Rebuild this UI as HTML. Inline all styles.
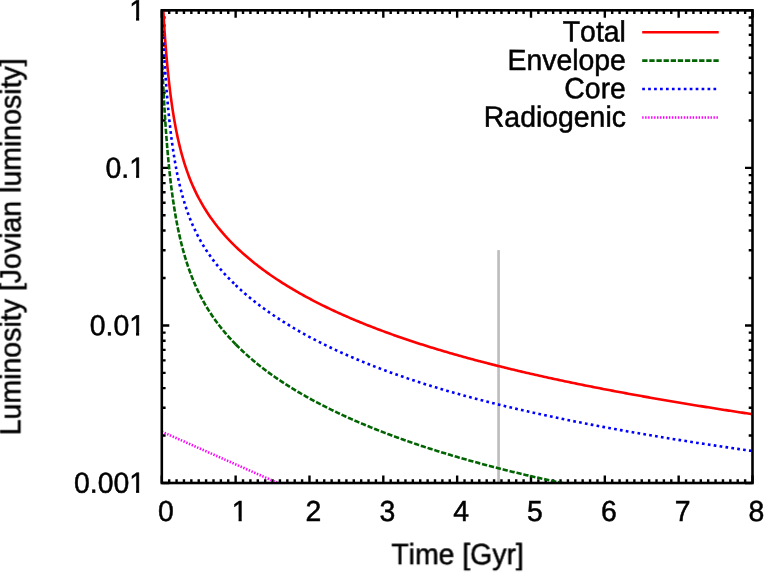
<!DOCTYPE html>
<html><head><meta charset="utf-8"><title>Luminosity</title>
<style>
html,body{margin:0;padding:0;background:#fff;}
body{width:764px;height:572px;overflow:hidden;font-family:"Liberation Sans",sans-serif;}
svg{display:block;}
</style></head><body>
<svg width="764" height="572" viewBox="0 0 764 572">
<rect width="764" height="572" fill="#fff"/>
<clipPath id="c"><rect x="160.50" y="9.00" width="593.30" height="474.00"/></clipPath>
<line x1="498.57" y1="250.12" x2="498.57" y2="483.00" stroke="#bebebe" stroke-width="2.7"/>
<path d="M161.80,483.00 v-7.50 M161.80,10.30 v7.50 M169.18,483.00 v-3.80 M169.18,10.30 v3.80 M176.57,483.00 v-3.80 M176.57,10.30 v3.80 M183.95,483.00 v-3.80 M183.95,10.30 v3.80 M191.34,483.00 v-3.80 M191.34,10.30 v3.80 M198.72,483.00 v-3.80 M198.72,10.30 v3.80 M206.10,483.00 v-3.80 M206.10,10.30 v3.80 M213.49,483.00 v-3.80 M213.49,10.30 v3.80 M220.87,483.00 v-3.80 M220.87,10.30 v3.80 M228.25,483.00 v-3.80 M228.25,10.30 v3.80 M235.64,483.00 v-7.50 M235.64,10.30 v7.50 M243.02,483.00 v-3.80 M243.02,10.30 v3.80 M250.41,483.00 v-3.80 M250.41,10.30 v3.80 M257.79,483.00 v-3.80 M257.79,10.30 v3.80 M265.17,483.00 v-3.80 M265.17,10.30 v3.80 M272.56,483.00 v-3.80 M272.56,10.30 v3.80 M279.94,483.00 v-3.80 M279.94,10.30 v3.80 M287.32,483.00 v-3.80 M287.32,10.30 v3.80 M294.71,483.00 v-3.80 M294.71,10.30 v3.80 M302.09,483.00 v-3.80 M302.09,10.30 v3.80 M309.48,483.00 v-7.50 M309.48,10.30 v7.50 M316.86,483.00 v-3.80 M316.86,10.30 v3.80 M324.24,483.00 v-3.80 M324.24,10.30 v3.80 M331.63,483.00 v-3.80 M331.63,10.30 v3.80 M339.01,483.00 v-3.80 M339.01,10.30 v3.80 M346.39,483.00 v-3.80 M346.39,10.30 v3.80 M353.78,483.00 v-3.80 M353.78,10.30 v3.80 M361.16,483.00 v-3.80 M361.16,10.30 v3.80 M368.55,483.00 v-3.80 M368.55,10.30 v3.80 M375.93,483.00 v-3.80 M375.93,10.30 v3.80 M383.31,483.00 v-7.50 M383.31,10.30 v7.50 M390.70,483.00 v-3.80 M390.70,10.30 v3.80 M398.08,483.00 v-3.80 M398.08,10.30 v3.80 M405.46,483.00 v-3.80 M405.46,10.30 v3.80 M412.85,483.00 v-3.80 M412.85,10.30 v3.80 M420.23,483.00 v-3.80 M420.23,10.30 v3.80 M427.62,483.00 v-3.80 M427.62,10.30 v3.80 M435.00,483.00 v-3.80 M435.00,10.30 v3.80 M442.38,483.00 v-3.80 M442.38,10.30 v3.80 M449.77,483.00 v-3.80 M449.77,10.30 v3.80 M457.15,483.00 v-7.50 M457.15,10.30 v7.50 M464.53,483.00 v-3.80 M464.53,10.30 v3.80 M471.92,483.00 v-3.80 M471.92,10.30 v3.80 M479.30,483.00 v-3.80 M479.30,10.30 v3.80 M486.69,483.00 v-3.80 M486.69,10.30 v3.80 M494.07,483.00 v-3.80 M494.07,10.30 v3.80 M501.45,483.00 v-3.80 M501.45,10.30 v3.80 M508.84,483.00 v-3.80 M508.84,10.30 v3.80 M516.22,483.00 v-3.80 M516.22,10.30 v3.80 M523.60,483.00 v-3.80 M523.60,10.30 v3.80 M530.99,483.00 v-7.50 M530.99,10.30 v7.50 M538.37,483.00 v-3.80 M538.37,10.30 v3.80 M545.76,483.00 v-3.80 M545.76,10.30 v3.80 M553.14,483.00 v-3.80 M553.14,10.30 v3.80 M560.52,483.00 v-3.80 M560.52,10.30 v3.80 M567.91,483.00 v-3.80 M567.91,10.30 v3.80 M575.29,483.00 v-3.80 M575.29,10.30 v3.80 M582.67,483.00 v-3.80 M582.67,10.30 v3.80 M590.06,483.00 v-3.80 M590.06,10.30 v3.80 M597.44,483.00 v-3.80 M597.44,10.30 v3.80 M604.83,483.00 v-7.50 M604.83,10.30 v7.50 M612.21,483.00 v-3.80 M612.21,10.30 v3.80 M619.59,483.00 v-3.80 M619.59,10.30 v3.80 M626.98,483.00 v-3.80 M626.98,10.30 v3.80 M634.36,483.00 v-3.80 M634.36,10.30 v3.80 M641.74,483.00 v-3.80 M641.74,10.30 v3.80 M649.13,483.00 v-3.80 M649.13,10.30 v3.80 M656.51,483.00 v-3.80 M656.51,10.30 v3.80 M663.90,483.00 v-3.80 M663.90,10.30 v3.80 M671.28,483.00 v-3.80 M671.28,10.30 v3.80 M678.66,483.00 v-7.50 M678.66,10.30 v7.50 M686.05,483.00 v-3.80 M686.05,10.30 v3.80 M693.43,483.00 v-3.80 M693.43,10.30 v3.80 M700.81,483.00 v-3.80 M700.81,10.30 v3.80 M708.20,483.00 v-3.80 M708.20,10.30 v3.80 M715.58,483.00 v-3.80 M715.58,10.30 v3.80 M722.97,483.00 v-3.80 M722.97,10.30 v3.80 M730.35,483.00 v-3.80 M730.35,10.30 v3.80 M737.73,483.00 v-3.80 M737.73,10.30 v3.80 M745.12,483.00 v-3.80 M745.12,10.30 v3.80 M752.50,483.00 v-7.50 M752.50,10.30 v7.50 M161.80,167.87 h7.50 M752.50,167.87 h-7.50 M161.80,120.43 h3.80 M752.50,120.43 h-3.80 M161.80,92.69 h3.80 M752.50,92.69 h-3.80 M161.80,73.00 h3.80 M752.50,73.00 h-3.80 M161.80,57.73 h3.80 M752.50,57.73 h-3.80 M161.80,45.26 h3.80 M752.50,45.26 h-3.80 M161.80,34.71 h3.80 M752.50,34.71 h-3.80 M161.80,25.57 h3.80 M752.50,25.57 h-3.80 M161.80,17.51 h3.80 M752.50,17.51 h-3.80 M161.80,325.43 h7.50 M752.50,325.43 h-7.50 M161.80,278.00 h3.80 M752.50,278.00 h-3.80 M161.80,250.25 h3.80 M752.50,250.25 h-3.80 M161.80,230.57 h3.80 M752.50,230.57 h-3.80 M161.80,215.30 h3.80 M752.50,215.30 h-3.80 M161.80,202.82 h3.80 M752.50,202.82 h-3.80 M161.80,192.27 h3.80 M752.50,192.27 h-3.80 M161.80,183.14 h3.80 M752.50,183.14 h-3.80 M161.80,175.08 h3.80 M752.50,175.08 h-3.80 M161.80,483.00 h7.50 M752.50,483.00 h-7.50 M161.80,435.57 h3.80 M752.50,435.57 h-3.80 M161.80,407.82 h3.80 M752.50,407.82 h-3.80 M161.80,388.14 h3.80 M752.50,388.14 h-3.80 M161.80,372.87 h3.80 M752.50,372.87 h-3.80 M161.80,360.39 h3.80 M752.50,360.39 h-3.80 M161.80,349.84 h3.80 M752.50,349.84 h-3.80 M161.80,340.70 h3.80 M752.50,340.70 h-3.80 M161.80,332.64 h3.80 M752.50,332.64 h-3.80 M161.80,10.30 h7.50 M752.50,10.30 h-7.50" fill="none" stroke="#000" stroke-width="2.40"/>
<g fill="none" stroke-width="2.60" stroke-linejoin="round" clip-path="url(#c)">
<path d="M163.30,10.30 L164.02,23.11 L164.05,23.59 L164.08,24.08 L164.11,24.58 L164.14,25.08 L164.18,25.59 L164.21,26.10 L164.24,26.61 L164.28,27.14 L164.31,27.66 L164.35,28.19 L164.39,28.73 L164.42,29.27 L164.46,29.82 L164.50,30.37 L164.54,30.93 L164.57,31.49 L164.61,32.06 L164.65,32.64 L164.69,33.21 L164.74,33.80 L164.78,34.39 L164.82,34.98 L164.86,35.58 L164.91,36.19 L164.95,36.80 L164.99,37.42 L165.04,38.04 L165.09,38.66 L165.13,39.30 L165.18,39.94 L165.23,40.58 L165.28,41.23 L165.33,41.88 L165.38,42.54 L165.43,43.21 L165.48,43.88 L165.53,44.55 L165.58,45.24 L165.64,45.92 L165.69,46.61 L165.75,47.31 L165.80,48.02 L165.86,48.73 L165.92,49.44 L165.97,50.16 L166.03,50.88 L166.09,51.61 L166.15,52.35 L166.22,53.09 L166.28,53.84 L166.34,54.59 L166.41,55.35 L166.47,56.11 L166.54,56.88 L166.61,57.65 L166.67,58.43 L166.74,59.21 L166.81,60.00 L166.88,60.80 L166.96,61.60 L167.03,62.40 L167.10,63.21 L167.18,64.02 L167.26,64.84 L167.33,65.67 L167.41,66.50 L167.49,67.33 L167.57,68.17 L167.65,69.01 L167.74,69.86 L167.82,70.72 L167.91,71.57 L167.99,72.44 L168.08,73.30 L168.17,74.18 L168.26,75.05 L168.35,75.93 L168.44,76.82 L168.54,77.71 L168.63,78.60 L168.73,79.50 L168.83,80.40 L168.93,81.31 L169.03,82.22 L169.13,83.14 L169.24,84.06 L169.34,84.98 L169.45,85.91 L169.56,86.84 L169.67,87.77 L169.78,88.71 L169.89,89.65 L170.01,90.60 L170.12,91.54 L170.24,92.50 L170.36,93.45 L170.48,94.41 L170.61,95.37 L170.73,96.34 L170.86,97.30 L170.99,98.28 L171.12,99.25 L171.25,100.23 L171.38,101.21 L171.52,102.19 L171.66,103.17 L171.80,104.16 L171.94,105.15 L172.08,106.14 L172.23,107.14 L172.37,108.13 L172.52,109.13 L172.68,110.13 L172.83,111.14 L172.99,112.14 L173.15,113.15 L173.31,114.16 L173.47,115.17 L173.64,116.18 L173.80,117.19 L173.97,118.21 L174.15,119.22 L174.32,120.24 L174.50,121.26 L174.68,122.28 L174.86,123.30 L175.05,124.32 L175.24,125.34 L175.43,126.37 L175.62,127.39 L175.81,128.42 L176.01,129.45 L176.22,130.47 L176.42,131.50 L176.63,132.53 L176.84,133.56 L177.05,134.58 L177.27,135.61 L177.49,136.64 L177.71,137.67 L177.93,138.70 L178.16,139.73 L178.40,140.76 L178.63,141.79 L178.87,142.82 L179.11,143.85 L179.36,144.87 L179.61,145.90 L179.86,146.93 L180.11,147.96 L180.37,148.99 L180.64,150.01 L180.90,151.04 L181.18,152.06 L181.45,153.09 L181.73,154.11 L182.01,155.14 L182.30,156.16 L182.59,157.18 L182.88,158.20 L183.18,159.22 L183.49,160.24 L183.79,161.26 L184.11,162.28 L184.42,163.30 L184.74,164.31 L185.07,165.33 L185.40,166.34 L185.73,167.36 L186.07,168.37 L186.42,169.38 L186.77,170.39 L187.12,171.40 L187.48,172.41 L187.84,173.41 L188.21,174.42 L188.59,175.42 L188.97,176.43 L189.35,177.43 L189.74,178.43 L190.14,179.43 L190.54,180.43 L190.95,181.43 L191.36,182.43 L191.78,183.42 L192.21,184.42 L192.64,185.41 L193.08,186.41 L193.52,187.40 L193.97,188.39 L194.42,189.38 L194.89,190.37 L195.36,191.36 L195.83,192.35 L196.32,193.34 L196.81,194.33 L197.30,195.31 L197.80,196.30 L198.32,197.28 L198.83,198.27 L199.36,199.25 L199.89,200.23 L200.43,201.22 L200.98,202.20 L201.54,203.18 L202.10,204.16 L202.67,205.14 L203.25,206.12 L203.84,207.10 L204.43,208.08 L205.04,209.06 L205.65,210.04 L206.27,211.02 L206.90,212.00 L207.54,212.98 L208.19,213.96 L208.85,214.94 L209.52,215.92 L210.19,216.90 L210.88,217.88 L211.58,218.86 L212.28,219.84 L213.00,220.82 L213.73,221.80 L214.46,222.78 L215.21,223.76 L215.97,224.75 L216.73,225.73 L217.51,226.72 L218.30,227.70 L219.10,228.69 L219.92,229.67 L220.74,230.66 L221.58,231.65 L222.43,232.64 L223.29,233.63 L224.16,234.62 L225.04,235.61 L225.94,236.60 L226.85,237.60 L227.77,238.60 L228.71,239.59 L229.65,240.59 L230.62,241.59 L231.59,242.59 L232.58,243.60 L233.59,244.60 L234.60,245.61 L235.64,246.61 L237.12,248.04 L238.60,249.43 L240.08,250.81 L241.56,252.16 L243.04,253.49 L244.52,254.80 L246.00,256.09 L247.49,257.36 L248.97,258.61 L250.45,259.84 L251.93,261.06 L253.41,262.26 L254.89,263.44 L256.37,264.60 L257.85,265.75 L259.33,266.89 L260.81,268.01 L262.30,269.11 L263.78,270.20 L265.26,271.28 L266.74,272.35 L268.22,273.40 L269.70,274.44 L271.18,275.46 L272.66,276.48 L274.14,277.48 L275.62,278.48 L277.10,279.46 L278.59,280.43 L280.07,281.39 L281.55,282.34 L283.03,283.28 L284.51,284.21 L285.99,285.14 L287.47,286.05 L288.95,286.95 L290.43,287.84 L291.91,288.73 L293.40,289.60 L294.88,290.47 L296.36,291.33 L297.84,292.18 L299.32,293.03 L300.80,293.86 L302.28,294.69 L303.76,295.51 L305.24,296.32 L306.72,297.13 L308.21,297.93 L309.69,298.72 L311.17,299.50 L312.65,300.28 L314.13,301.05 L315.61,301.82 L317.09,302.58 L318.57,303.33 L320.05,304.07 L321.53,304.81 L323.02,305.55 L324.50,306.27 L325.98,307.00 L327.46,307.71 L328.94,308.42 L330.42,309.13 L331.90,309.83 L333.38,310.52 L334.86,311.21 L336.34,311.89 L337.83,312.57 L339.31,313.25 L340.79,313.91 L342.27,314.58 L343.75,315.24 L345.23,315.89 L346.71,316.54 L348.19,317.18 L349.67,317.82 L351.15,318.46 L352.64,319.09 L354.12,319.72 L355.60,320.34 L357.08,320.96 L358.56,321.57 L360.04,322.18 L361.52,322.78 L363.00,323.39 L364.48,323.98 L365.96,324.58 L367.44,325.17 L368.93,325.75 L370.41,326.33 L371.89,326.91 L373.37,327.48 L374.85,328.05 L376.33,328.62 L377.81,329.18 L379.29,329.74 L380.77,330.30 L382.25,330.85 L383.74,331.40 L385.22,331.95 L386.70,332.49 L388.18,333.03 L389.66,333.57 L391.14,334.10 L392.62,334.63 L394.10,335.16 L395.58,335.68 L397.06,336.20 L398.55,336.72 L400.03,337.23 L401.51,337.74 L402.99,338.25 L404.47,338.76 L405.95,339.26 L407.43,339.76 L408.91,340.26 L410.39,340.75 L411.87,341.24 L413.36,341.73 L414.84,342.22 L416.32,342.70 L417.80,343.18 L419.28,343.66 L420.76,344.14 L422.24,344.61 L423.72,345.08 L425.20,345.55 L426.68,346.01 L428.17,346.48 L429.65,346.94 L431.13,347.39 L432.61,347.85 L434.09,348.30 L435.57,348.75 L437.05,349.20 L438.53,349.65 L440.01,350.09 L441.49,350.54 L442.97,350.98 L444.46,351.41 L445.94,351.85 L447.42,352.28 L448.90,352.71 L450.38,353.14 L451.86,353.57 L453.34,354.00 L454.82,354.42 L456.30,354.84 L457.78,355.26 L459.27,355.68 L460.75,356.09 L462.23,356.50 L463.71,356.91 L465.19,357.32 L466.67,357.73 L468.15,358.14 L469.63,358.54 L471.11,358.94 L472.59,359.34 L474.08,359.74 L475.56,360.14 L477.04,360.53 L478.52,360.92 L480.00,361.31 L481.48,361.70 L482.96,362.09 L484.44,362.48 L485.92,362.86 L487.40,363.24 L488.89,363.62 L490.37,364.00 L491.85,364.38 L493.33,364.76 L494.81,365.13 L496.29,365.50 L497.77,365.87 L499.25,366.24 L500.73,366.61 L502.21,366.98 L503.70,367.34 L505.18,367.71 L506.66,368.07 L508.14,368.43 L509.62,368.79 L511.10,369.15 L512.58,369.50 L514.06,369.86 L515.54,370.21 L517.02,370.56 L518.50,370.91 L519.99,371.26 L521.47,371.61 L522.95,371.96 L524.43,372.30 L525.91,372.65 L527.39,372.99 L528.87,373.33 L530.35,373.67 L531.83,374.01 L533.31,374.34 L534.80,374.68 L536.28,375.02 L537.76,375.35 L539.24,375.68 L540.72,376.01 L542.20,376.34 L543.68,376.67 L545.16,377.00 L546.64,377.32 L548.12,377.65 L549.61,377.97 L551.09,378.29 L552.57,378.62 L554.05,378.94 L555.53,379.26 L557.01,379.57 L558.49,379.89 L559.97,380.21 L561.45,380.52 L562.93,380.83 L564.42,381.15 L565.90,381.46 L567.38,381.77 L568.86,382.08 L570.34,382.39 L571.82,382.69 L573.30,383.00 L574.78,383.30 L576.26,383.61 L577.74,383.91 L579.23,384.21 L580.71,384.52 L582.19,384.82 L583.67,385.11 L585.15,385.41 L586.63,385.71 L588.11,386.01 L589.59,386.30 L591.07,386.60 L592.55,386.89 L594.03,387.18 L595.52,387.47 L597.00,387.76 L598.48,388.05 L599.96,388.34 L601.44,388.63 L602.92,388.92 L604.40,389.20 L605.88,389.49 L607.36,389.77 L608.84,390.05 L610.33,390.34 L611.81,390.62 L613.29,390.90 L614.77,391.18 L616.25,391.46 L617.73,391.74 L619.21,392.01 L620.69,392.29 L622.17,392.57 L623.65,392.84 L625.14,393.12 L626.62,393.39 L628.10,393.66 L629.58,393.93 L631.06,394.20 L632.54,394.48 L634.02,394.74 L635.50,395.01 L636.98,395.28 L638.46,395.55 L639.95,395.81 L641.43,396.08 L642.91,396.35 L644.39,396.61 L645.87,396.87 L647.35,397.14 L648.83,397.40 L650.31,397.66 L651.79,397.92 L653.27,398.18 L654.76,398.44 L656.24,398.70 L657.72,398.96 L659.20,399.21 L660.68,399.47 L662.16,399.73 L663.64,399.98 L665.12,400.23 L666.60,400.49 L668.08,400.74 L669.57,400.99 L671.05,401.25 L672.53,401.50 L674.01,401.75 L675.49,402.00 L676.97,402.25 L678.45,402.50 L679.93,402.74 L681.41,402.99 L682.89,403.24 L684.37,403.48 L685.86,403.73 L687.34,403.97 L688.82,404.22 L690.30,404.46 L691.78,404.71 L693.26,404.95 L694.74,405.19 L696.22,405.43 L697.70,405.67 L699.18,405.91 L700.67,406.15 L702.15,406.39 L703.63,406.63 L705.11,406.87 L706.59,407.10 L708.07,407.34 L709.55,407.58 L711.03,407.81 L712.51,408.05 L713.99,408.28 L715.48,408.52 L716.96,408.75 L718.44,408.98 L719.92,409.22 L721.40,409.45 L722.88,409.68 L724.36,409.91 L725.84,410.14 L727.32,410.37 L728.80,410.60 L730.29,410.83 L731.77,411.06 L733.25,411.29 L734.73,411.51 L736.21,411.74 L737.69,411.97 L739.17,412.19 L740.65,412.42 L742.13,412.64 L743.61,412.87 L745.10,413.09 L746.58,413.32 L748.06,413.54 L749.54,413.76 L751.02,413.98 L752.50,414.21" stroke="#ff0000"/>
<path d="M162.17,61.81 L162.18,62.00 L162.19,62.20 L162.19,62.40 L162.20,62.60 L162.21,62.80 L162.22,63.02 L162.23,63.23 L162.24,63.45 L162.25,63.67 L162.26,63.90 L162.27,64.14 L162.28,64.37 L162.29,64.62 L162.30,64.86 L162.31,65.12 L162.32,65.37 L162.33,65.63 L162.34,65.90 L162.35,66.17 L162.37,66.45 L162.38,66.73 L162.39,67.02 L162.40,67.32 L162.42,67.62 L162.43,67.92 L162.44,68.23 L162.46,68.55 L162.47,68.87 L162.48,69.20 L162.50,69.54 L162.51,69.88 L162.53,70.23 L162.55,70.59 L162.56,70.95 L162.58,71.32 L162.59,71.69 L162.61,72.07 L162.63,72.46 L162.65,72.86 L162.66,73.27 L162.68,73.68 L162.70,74.10 L162.72,74.52 L162.74,74.96 L162.76,75.40 L162.78,75.85 L162.80,76.31 L162.83,76.78 L162.85,77.26 L162.87,77.74 L162.89,78.23 L162.92,78.73 L162.94,79.24 L162.96,79.76 L162.99,80.29 L163.02,80.83 L163.04,81.38 L163.07,81.93 L163.10,82.50 L163.12,83.07 L163.15,83.66 L163.18,84.26 L163.21,84.86 L163.24,85.48 L163.27,86.10 L163.30,86.74 L163.34,87.39 L163.37,88.04 L163.40,88.71 L163.44,89.39 L163.47,90.08 L163.51,90.78 L163.55,91.49 L163.58,92.22 L163.62,92.95 L163.66,93.70 L163.70,94.45 L163.74,95.22 L163.78,96.00 L163.83,96.80 L163.87,97.60 L163.91,98.42 L163.96,99.25 L164.01,100.09 L164.05,100.94 L164.10,101.81 L164.15,102.69 L164.20,103.58 L164.25,104.48 L164.31,105.40 L164.36,106.33 L164.41,107.27 L164.47,108.22 L164.53,109.19 L164.59,110.17 L164.65,111.16 L164.71,112.17 L164.77,113.18 L164.83,114.22 L164.90,115.26 L164.97,116.32 L165.03,117.39 L165.10,118.47 L165.18,119.57 L165.25,120.68 L165.32,121.80 L165.40,122.94 L165.48,124.09 L165.55,125.25 L165.64,126.43 L165.72,127.61 L165.80,128.81 L165.89,130.03 L165.98,131.25 L166.07,132.49 L166.16,133.74 L166.25,135.01 L166.35,136.28 L166.44,137.57 L166.54,138.87 L166.65,140.19 L166.75,141.51 L166.86,142.85 L166.97,144.20 L167.08,145.56 L167.19,146.93 L167.31,148.31 L167.42,149.71 L167.55,151.11 L167.67,152.53 L167.80,153.96 L167.92,155.39 L168.06,156.84 L168.19,158.30 L168.33,159.77 L168.47,161.25 L168.61,162.74 L168.76,164.23 L168.91,165.74 L169.06,167.26 L169.22,168.78 L169.38,170.31 L169.54,171.85 L169.71,173.40 L169.88,174.96 L170.05,176.53 L170.23,178.10 L170.41,179.68 L170.59,181.26 L170.78,182.86 L170.98,184.46 L171.17,186.06 L171.37,187.67 L171.58,189.29 L171.79,190.92 L172.01,192.54 L172.23,194.18 L172.45,195.81 L172.68,197.46 L172.91,199.10 L173.15,200.75 L173.40,202.41 L173.65,204.06 L173.90,205.72 L174.16,207.39 L174.43,209.05 L174.70,210.72 L174.97,212.39 L175.26,214.06 L175.55,215.74 L175.84,217.41 L176.15,219.09 L176.45,220.77 L176.77,222.45 L177.09,224.13 L177.42,225.81 L177.76,227.49 L178.10,229.17 L178.45,230.85 L178.81,232.53 L179.17,234.20 L179.55,235.88 L179.93,237.56 L180.32,239.24 L180.72,240.91 L181.12,242.59 L181.54,244.26 L181.96,245.93 L182.40,247.60 L182.84,249.27 L183.29,250.93 L183.76,252.59 L184.23,254.26 L184.71,255.91 L185.20,257.57 L185.71,259.23 L186.22,260.88 L186.74,262.53 L187.28,264.18 L187.83,265.82 L188.39,267.46 L188.96,269.10 L189.55,270.74 L190.14,272.37 L190.75,274.00 L191.37,275.63 L192.01,277.26 L192.66,278.88 L193.32,280.50 L194.00,282.12 L194.69,283.74 L195.40,285.35 L196.12,286.96 L196.86,288.57 L197.62,290.18 L198.39,291.78 L199.17,293.39 L199.98,294.99 L200.80,296.59 L201.64,298.18 L202.49,299.78 L203.37,301.37 L204.26,302.96 L205.18,304.55 L206.11,306.14 L207.06,307.73 L208.04,309.32 L209.03,310.91 L210.05,312.49 L211.08,314.08 L212.14,315.66 L213.23,317.25 L214.33,318.83 L215.46,320.41 L216.62,322.00 L217.79,323.58 L219.00,325.17 L220.23,326.75 L221.49,328.34 L222.77,329.92 L224.08,331.51 L225.42,333.10 L226.79,334.69 L228.19,336.28 L229.61,337.88 L231.07,339.47 L232.56,341.07 L234.08,342.67 L235.64,344.27" stroke="#006400" stroke-dasharray="5.3 1.8" stroke-dashoffset="3.98"/>
<path d="M235.64,344.27 L236.61,345.25 L237.58,346.23 L238.56,347.19 L239.53,348.14 L240.50,349.09 L241.48,350.02 L242.45,350.94 L243.42,351.85 L244.40,352.75 L245.37,353.64 L246.34,354.52 L247.32,355.39 L248.29,356.25 L249.26,357.11 L250.24,357.95 L251.21,358.79 L252.18,359.62 L253.16,360.44 L254.13,361.25 L255.10,362.06 L256.08,362.86 L257.05,363.65 L258.02,364.43 L258.99,365.21 L259.97,365.98 L260.94,366.75 L261.91,367.50 L262.89,368.25 L263.86,369.00 L264.83,369.73 L265.81,370.47 L266.78,371.19 L267.75,371.91 L268.73,372.63 L269.70,373.33 L270.67,374.04 L271.65,374.73 L272.62,375.43 L273.59,376.11 L274.57,376.79 L275.54,377.47 L276.51,378.14 L277.49,378.81 L278.46,379.47 L279.43,380.13 L280.41,380.78 L281.38,381.43 L282.35,382.07 L283.33,382.71 L284.30,383.34 L285.27,383.97 L286.24,384.60 L287.22,385.22 L288.19,385.83 L289.16,386.45 L290.14,387.06 L291.11,387.66 L292.08,388.26 L293.06,388.86 L294.03,389.45 L295.00,390.04 L295.98,390.63 L296.95,391.21 L297.92,391.79 L298.90,392.36 L299.87,392.93 L300.84,393.50 L301.82,394.06 L302.79,394.63 L303.76,395.18 L304.74,395.74 L305.71,396.29 L306.68,396.84 L307.66,397.38 L308.63,397.92 L309.60,398.46 L310.58,399.00 L311.55,399.53 L312.52,400.06 L313.49,400.58 L314.47,401.11 L315.44,401.63 L316.41,402.15 L317.39,402.66 L318.36,403.17 L319.33,403.68 L320.31,404.19 L321.28,404.69 L322.25,405.19 L323.23,405.69 L324.20,406.19 L325.17,406.68 L326.15,407.17 L327.12,407.66 L328.09,408.15 L329.07,408.63 L330.04,409.11 L331.01,409.59 L331.99,410.06 L332.96,410.54 L333.93,411.01 L334.91,411.48 L335.88,411.94 L336.85,412.41 L337.83,412.87 L338.80,413.33 L339.77,413.79 L340.74,414.24 L341.72,414.70 L342.69,415.15 L343.66,415.60 L344.64,416.04 L345.61,416.49 L346.58,416.93 L347.56,417.37 L348.53,417.81 L349.50,418.24 L350.48,418.68 L351.45,419.11 L352.42,419.54 L353.40,419.97 L354.37,420.40 L355.34,420.82 L356.32,421.24 L357.29,421.66 L358.26,422.08 L359.24,422.50 L360.21,422.91 L361.18,423.33 L362.16,423.74 L363.13,424.15 L364.10,424.56 L365.08,424.96 L366.05,425.37 L367.02,425.77 L367.99,426.17 L368.97,426.57 L369.94,426.97 L370.91,427.36 L371.89,427.76 L372.86,428.15 L373.83,428.54 L374.81,428.93 L375.78,429.32 L376.75,429.70 L377.73,430.09 L378.70,430.47 L379.67,430.85 L380.65,431.23 L381.62,431.61 L382.59,431.99 L383.57,432.36 L384.54,432.73 L385.51,433.11 L386.49,433.48 L387.46,433.85 L388.43,434.21 L389.41,434.58 L390.38,434.94 L391.35,435.31 L392.33,435.67 L393.30,436.03 L394.27,436.39 L395.24,436.75 L396.22,437.10 L397.19,437.46 L398.16,437.81 L399.14,438.16 L400.11,438.51 L401.08,438.86 L402.06,439.21 L403.03,439.56 L404.00,439.90 L404.98,440.25 L405.95,440.59 L406.92,440.93 L407.90,441.27 L408.87,441.61 L409.84,441.95 L410.82,442.29 L411.79,442.62 L412.76,442.95 L413.74,443.29 L414.71,443.62 L415.68,443.95 L416.66,444.28 L417.63,444.61 L418.60,444.93 L419.58,445.26 L420.55,445.58 L421.52,445.91 L422.50,446.23 L423.47,446.55 L424.44,446.87 L425.41,447.19 L426.39,447.50 L427.36,447.82 L428.33,448.14 L429.31,448.45 L430.28,448.76 L431.25,449.07 L432.23,449.38 L433.20,449.69 L434.17,450.00 L435.15,450.31 L436.12,450.62 L437.09,450.92 L438.07,451.23 L439.04,451.53 L440.01,451.83 L440.99,452.13 L441.96,452.43 L442.93,452.73 L443.91,453.03 L444.88,453.33 L445.85,453.62 L446.83,453.92 L447.80,454.21 L448.77,454.50 L449.75,454.80 L450.72,455.09 L451.69,455.38 L452.66,455.67 L453.64,455.96 L454.61,456.24 L455.58,456.53 L456.56,456.81 L457.53,457.10 L458.50,457.38 L459.48,457.66 L460.45,457.95 L461.42,458.23 L462.40,458.51 L463.37,458.78 L464.34,459.06 L465.32,459.34 L466.29,459.62 L467.26,459.89 L468.24,460.16 L469.21,460.44 L470.18,460.71 L471.16,460.98 L472.13,461.25 L473.10,461.52 L474.08,461.79 L475.05,462.06 L476.02,462.33 L477.00,462.59 L477.97,462.86 L478.94,463.12 L479.91,463.39 L480.89,463.65 L481.86,463.91 L482.83,464.17 L483.81,464.43 L484.78,464.69 L485.75,464.95 L486.73,465.21 L487.70,465.47 L488.67,465.73 L489.65,465.98 L490.62,466.24 L491.59,466.49 L492.57,466.74 L493.54,467.00 L494.51,467.25 L495.49,467.50 L496.46,467.75 L497.43,468.00 L498.41,468.25 L499.38,468.50 L500.35,468.74 L501.33,468.99 L502.30,469.23 L503.27,469.48 L504.25,469.72 L505.22,469.97 L506.19,470.21 L507.16,470.45 L508.14,470.69 L509.11,470.93 L510.08,471.17 L511.06,471.41 L512.03,471.65 L513.00,471.89 L513.98,472.13 L514.95,472.36 L515.92,472.60 L516.90,472.83 L517.87,473.07 L518.84,473.30 L519.82,473.53 L520.79,473.76 L521.76,474.00 L522.74,474.23 L523.71,474.46 L524.68,474.69 L525.66,474.91 L526.63,475.14 L527.60,475.37 L528.58,475.60 L529.55,475.82 L530.52,476.05 L531.50,476.27 L532.47,476.50 L533.44,476.72 L534.41,476.94 L535.39,477.17 L536.36,477.39 L537.33,477.61 L538.31,477.83 L539.28,478.05 L540.25,478.27 L541.23,478.48 L542.20,478.70 L543.17,478.92 L544.15,479.14 L545.12,479.35 L546.09,479.57 L547.07,479.78 L548.04,480.00 L549.01,480.21 L549.99,480.42 L550.96,480.63 L551.93,480.85 L552.91,481.06 L553.88,481.27 L554.85,481.48 L555.83,481.69 L556.80,481.89 L557.77,482.10 L558.75,482.31 L559.72,482.52 L560.69,482.72 L561.66,482.93 L562.64,483.13 L563.61,483.34 L564.58,483.54 L565.56,483.75 L566.53,483.95 L567.50,484.15 L568.48,484.35 L569.45,484.55 L570.42,484.75 L571.40,484.95 L572.37,485.15 L573.34,485.35 L574.32,485.55 L575.29,485.75" stroke="#006400" stroke-dasharray="5.3 1.8"/>
<path d="M162.54,24.55 L162.55,24.84 L162.57,25.13 L162.58,25.42 L162.60,25.73 L162.61,26.03 L162.63,26.34 L162.64,26.66 L162.66,26.98 L162.67,27.31 L162.69,27.64 L162.70,27.98 L162.72,28.33 L162.74,28.68 L162.76,29.03 L162.77,29.39 L162.79,29.76 L162.81,30.13 L162.83,30.51 L162.85,30.89 L162.87,31.28 L162.89,31.68 L162.91,32.08 L162.93,32.49 L162.95,32.91 L162.97,33.33 L162.99,33.76 L163.02,34.20 L163.04,34.64 L163.06,35.09 L163.09,35.55 L163.11,36.01 L163.13,36.48 L163.16,36.96 L163.18,37.44 L163.21,37.93 L163.24,38.43 L163.26,38.94 L163.29,39.46 L163.32,39.98 L163.35,40.51 L163.38,41.05 L163.41,41.59 L163.44,42.15 L163.47,42.71 L163.50,43.28 L163.53,43.86 L163.56,44.44 L163.59,45.04 L163.63,45.64 L163.66,46.26 L163.70,46.88 L163.73,47.51 L163.77,48.14 L163.80,48.79 L163.84,49.45 L163.88,50.11 L163.92,50.79 L163.96,51.47 L164.00,52.16 L164.04,52.86 L164.08,53.57 L164.12,54.29 L164.17,55.02 L164.21,55.76 L164.26,56.51 L164.30,57.27 L164.35,58.04 L164.40,58.81 L164.45,59.60 L164.49,60.40 L164.55,61.20 L164.60,62.02 L164.65,62.85 L164.70,63.68 L164.76,64.53 L164.81,65.39 L164.87,66.25 L164.92,67.13 L164.98,68.02 L165.04,68.91 L165.10,69.82 L165.16,70.74 L165.23,71.66 L165.29,72.60 L165.36,73.55 L165.42,74.51 L165.49,75.47 L165.56,76.45 L165.63,77.44 L165.70,78.44 L165.77,79.44 L165.85,80.46 L165.92,81.49 L166.00,82.53 L166.08,83.58 L166.16,84.63 L166.24,85.70 L166.32,86.78 L166.41,87.87 L166.49,88.96 L166.58,90.07 L166.67,91.18 L166.76,92.31 L166.85,93.44 L166.95,94.59 L167.04,95.74 L167.14,96.90 L167.24,98.08 L167.34,99.26 L167.45,100.45 L167.55,101.64 L167.66,102.85 L167.77,104.07 L167.88,105.29 L167.99,106.52 L168.11,107.76 L168.23,109.01 L168.35,110.27 L168.47,111.53 L168.59,112.80 L168.72,114.08 L168.85,115.36 L168.98,116.66 L169.12,117.96 L169.25,119.26 L169.39,120.57 L169.53,121.89 L169.68,123.22 L169.82,124.55 L169.97,125.89 L170.13,127.23 L170.28,128.58 L170.44,129.93 L170.60,131.29 L170.77,132.66 L170.93,134.02 L171.10,135.40 L171.28,136.77 L171.45,138.16 L171.64,139.54 L171.82,140.93 L172.01,142.32 L172.20,143.72 L172.39,145.11 L172.59,146.51 L172.79,147.92 L172.99,149.32 L173.20,150.73 L173.42,152.14 L173.63,153.55 L173.85,154.97 L174.08,156.38 L174.31,157.80 L174.54,159.21 L174.78,160.63 L175.02,162.05 L175.27,163.47 L175.52,164.88 L175.78,166.30 L176.04,167.72 L176.30,169.14 L176.57,170.55 L176.85,171.97 L177.13,173.38 L177.42,174.80 L177.71,176.21 L178.00,177.62 L178.31,179.03 L178.62,180.44 L178.93,181.84 L179.25,183.25 L179.57,184.65 L179.91,186.04 L180.24,187.44 L180.59,188.83 L180.94,190.22 L181.30,191.61 L181.66,193.00 L182.03,194.38 L182.41,195.76 L182.79,197.13 L183.19,198.51 L183.58,199.87 L183.99,201.24 L184.41,202.60 L184.83,203.96 L185.26,205.32 L185.70,206.67 L186.14,208.02 L186.60,209.36 L187.06,210.70 L187.53,212.04 L188.01,213.37 L188.50,214.70 L189.00,216.03 L189.51,217.35 L190.02,218.67 L190.55,219.99 L191.09,221.30 L191.63,222.61 L192.19,223.92 L192.76,225.22 L193.34,226.52 L193.92,227.82 L194.52,229.11 L195.13,230.41 L195.76,231.69 L196.39,232.98 L197.04,234.26 L197.69,235.55 L198.36,236.82 L199.05,238.10 L199.74,239.38 L200.45,240.65 L201.17,241.92 L201.91,243.19 L202.66,244.46 L203.42,245.72 L204.19,246.99 L204.99,248.25 L205.79,249.51 L206.61,250.78 L207.45,252.04 L208.30,253.30 L209.17,254.56 L210.05,255.82 L210.96,257.08 L211.87,258.34 L212.81,259.60 L213.76,260.86 L214.73,262.13 L215.72,263.39 L216.72,264.65 L217.75,265.92 L218.79,267.19 L219.86,268.45 L220.94,269.72 L222.05,271.00 L223.17,272.27 L224.32,273.55 L225.48,274.82 L226.67,276.10 L227.88,277.39 L229.12,278.67 L230.37,279.96 L231.65,281.25 L232.96,282.54 L234.28,283.84 L235.64,285.14 M235.64,285.14 L237.12,286.54 L238.60,287.92 L240.08,289.27 L241.56,290.61 L243.04,291.92 L244.52,293.21 L246.00,294.49 L247.49,295.74 L248.97,296.98 L250.45,298.20 L251.93,299.40 L253.41,300.59 L254.89,301.76 L256.37,302.91 L257.85,304.06 L259.33,305.18 L260.81,306.29 L262.30,307.39 L263.78,308.48 L265.26,309.55 L266.74,310.61 L268.22,311.66 L269.70,312.70 L271.18,313.72 L272.66,314.74 L274.14,315.74 L275.62,316.73 L277.10,317.71 L278.59,318.68 L280.07,319.65 L281.55,320.60 L283.03,321.54 L284.51,322.47 L285.99,323.39 L287.47,324.31 L288.95,325.21 L290.43,326.11 L291.91,327.00 L293.40,327.88 L294.88,328.75 L296.36,329.61 L297.84,330.46 L299.32,331.31 L300.80,332.15 L302.28,332.98 L303.76,333.81 L305.24,334.63 L306.72,335.44 L308.21,336.24 L309.69,337.04 L311.17,337.83 L312.65,338.61 L314.13,339.39 L315.61,340.16 L317.09,340.92 L318.57,341.68 L320.05,342.43 L321.53,343.17 L323.02,343.91 L324.50,344.65 L325.98,345.37 L327.46,346.09 L328.94,346.81 L330.42,347.52 L331.90,348.23 L333.38,348.93 L334.86,349.62 L336.34,350.31 L337.83,350.99 L339.31,351.67 L340.79,352.35 L342.27,353.02 L343.75,353.68 L345.23,354.34 L346.71,354.99 L348.19,355.64 L349.67,356.29 L351.15,356.93 L352.64,357.56 L354.12,358.20 L355.60,358.82 L357.08,359.45 L358.56,360.06 L360.04,360.68 L361.52,361.29 L363.00,361.89 L364.48,362.49 L365.96,363.09 L367.44,363.69 L368.93,364.28 L370.41,364.86 L371.89,365.44 L373.37,366.02 L374.85,366.60 L376.33,367.17 L377.81,367.73 L379.29,368.30 L380.77,368.86 L382.25,369.41 L383.74,369.96 L385.22,370.51 L386.70,371.06 L388.18,371.60 L389.66,372.14 L391.14,372.68 L392.62,373.21 L394.10,373.74 L395.58,374.26 L397.06,374.79 L398.55,375.30 L400.03,375.82 L401.51,376.33 L402.99,376.84 L404.47,377.35 L405.95,377.86 L407.43,378.36 L408.91,378.86 L410.39,379.35 L411.87,379.84 L413.36,380.33 L414.84,380.82 L416.32,381.30 L417.80,381.79 L419.28,382.26 L420.76,382.74 L422.24,383.21 L423.72,383.68 L425.20,384.15 L426.68,384.62 L428.17,385.08 L429.65,385.54 L431.13,386.00 L432.61,386.45 L434.09,386.91 L435.57,387.36 L437.05,387.81 L438.53,388.25 L440.01,388.69 L441.49,389.13 L442.97,389.57 L444.46,390.01 L445.94,390.44 L447.42,390.88 L448.90,391.31 L450.38,391.73 L451.86,392.16 L453.34,392.58 L454.82,393.00 L456.30,393.42 L457.78,393.84 L459.27,394.25 L460.75,394.66 L462.23,395.07 L463.71,395.48 L465.19,395.89 L466.67,396.29 L468.15,396.70 L469.63,397.10 L471.11,397.49 L472.59,397.89 L474.08,398.29 L475.56,398.68 L477.04,399.07 L478.52,399.46 L480.00,399.84 L481.48,400.23 L482.96,400.61 L484.44,401.00 L485.92,401.38 L487.40,401.75 L488.89,402.13 L490.37,402.50 L491.85,402.88 L493.33,403.25 L494.81,403.62 L496.29,403.99 L497.77,404.35 L499.25,404.72 L500.73,405.08 L502.21,405.44 L503.70,405.80 L505.18,406.16 L506.66,406.52 L508.14,406.87 L509.62,407.22 L511.10,407.58 L512.58,407.93 L514.06,408.27 L515.54,408.62 L517.02,408.97 L518.50,409.31 L519.99,409.66 L521.47,410.00 L522.95,410.34 L524.43,410.68 L525.91,411.01 L527.39,411.35 L528.87,411.68 L530.35,412.02 L531.83,412.35 L533.31,412.68 L534.80,413.01 L536.28,413.33 L537.76,413.66 L539.24,413.99 L540.72,414.31 L542.20,414.63 L543.68,414.95 L545.16,415.27 L546.64,415.59 L548.12,415.91 L549.61,416.23 L551.09,416.54 L552.57,416.85 L554.05,417.17 L555.53,417.48 L557.01,417.79 L558.49,418.10 L559.97,418.40 L561.45,418.71 L562.93,419.02 L564.42,419.32 L565.90,419.62 L567.38,419.93 L568.86,420.23 L570.34,420.53 L571.82,420.82 L573.30,421.12 L574.78,421.42 L576.26,421.71 L577.74,422.01 L579.23,422.30 L580.71,422.59 L582.19,422.88 L583.67,423.17 L585.15,423.46 L586.63,423.75 L588.11,424.04 L589.59,424.32 L591.07,424.61 L592.55,424.89 L594.03,425.18 L595.52,425.46 L597.00,425.74 L598.48,426.02 L599.96,426.30 L601.44,426.58 L602.92,426.85 L604.40,427.13 L605.88,427.41 L607.36,427.68 L608.84,427.95 L610.33,428.23 L611.81,428.50 L613.29,428.77 L614.77,429.04 L616.25,429.31 L617.73,429.58 L619.21,429.84 L620.69,430.11 L622.17,430.38 L623.65,430.64 L625.14,430.90 L626.62,431.17 L628.10,431.43 L629.58,431.69 L631.06,431.95 L632.54,432.21 L634.02,432.47 L635.50,432.73 L636.98,432.99 L638.46,433.24 L639.95,433.50 L641.43,433.75 L642.91,434.01 L644.39,434.26 L645.87,434.51 L647.35,434.77 L648.83,435.02 L650.31,435.27 L651.79,435.52 L653.27,435.77 L654.76,436.01 L656.24,436.26 L657.72,436.51 L659.20,436.75 L660.68,437.00 L662.16,437.24 L663.64,437.49 L665.12,437.73 L666.60,437.97 L668.08,438.22 L669.57,438.46 L671.05,438.70 L672.53,438.94 L674.01,439.18 L675.49,439.42 L676.97,439.65 L678.45,439.89 L679.93,440.13 L681.41,440.36 L682.89,440.60 L684.37,440.83 L685.86,441.07 L687.34,441.30 L688.82,441.53 L690.30,441.77 L691.78,442.00 L693.26,442.23 L694.74,442.46 L696.22,442.69 L697.70,442.92 L699.18,443.15 L700.67,443.37 L702.15,443.60 L703.63,443.83 L705.11,444.05 L706.59,444.28 L708.07,444.51 L709.55,444.73 L711.03,444.95 L712.51,445.18 L713.99,445.40 L715.48,445.62 L716.96,445.84 L718.44,446.06 L719.92,446.29 L721.40,446.51 L722.88,446.73 L724.36,446.94 L725.84,447.16 L727.32,447.38 L728.80,447.60 L730.29,447.81 L731.77,448.03 L733.25,448.25 L734.73,448.46 L736.21,448.68 L737.69,448.89 L739.17,449.11 L740.65,449.32 L742.13,449.53 L743.61,449.74 L745.10,449.96 L746.58,450.17 L748.06,450.38 L749.54,450.59 L751.02,450.80 L752.50,451.01" stroke="#0000ff" stroke-dasharray="2.7 3.24"/>
<path d="M161.80,431.70 L278.70,483.40" stroke="#ff00ff" stroke-dasharray="1.42 1.55"/>
</g>
<rect x="161.80" y="10.30" width="590.70" height="472.70" fill="none" stroke="#000" stroke-width="2.60"/>
<g fill="none" stroke-width="2.60">
<path d="M642.20,32.20 H718.70" stroke="#ff0000"/>
<path d="M642.20,60.65 H718.70" stroke="#006400" stroke-dasharray="5.3 1.82"/>
<path d="M642.20,89.00 H718.70" stroke="#0000ff" stroke-dasharray="2.7 3.24"/>
<path d="M642.20,117.50 H718.70" stroke="#ff00ff" stroke-dasharray="1.42 1.55"/>
</g>
<g font-family="Liberation Sans, sans-serif" font-size="28.40" fill="#000" stroke="#000" stroke-width="0.5" opacity="0.999" text-rendering="geometricPrecision" style="font-kerning:none;font-variant-ligatures:none">
<clipPath id="k1e"><rect x="-120" y="-40" width="130" height="36.88"/><rect x="-120" y="-40" width="104.20" height="50"/><rect x="-8.95" y="-10" width="3.11" height="12"/></clipPath>
<clipPath id="k1m"><rect x="-20" y="-40" width="40" height="36.88"/><rect x="-1.06" y="-10" width="3.11" height="12"/></clipPath>
<text transform="matrix(1,0.0005,0,1.030,625.90,41.50)" text-anchor="end">Total</text>
<text transform="matrix(1,0.0005,0,1.030,625.90,69.95)" text-anchor="end">Envelope</text>
<text transform="matrix(1,0.0005,0,1.030,625.90,98.30)" text-anchor="end">Core</text>
<text transform="matrix(1,0.0005,0,1.030,625.90,126.80)" text-anchor="end">Radiogenic</text>
<text transform="matrix(1,0.0005,0,1.020,145.00,20.15)" text-anchor="end" clip-path="url(#k1e)">1</text>
<text transform="matrix(1,0.0005,0,1.020,145.00,177.72)" text-anchor="end" clip-path="url(#k1e)">0.1</text>
<text transform="matrix(1,0.0005,0,1.020,145.00,335.28)" text-anchor="end" clip-path="url(#k1e)">0.01</text>
<text transform="matrix(1,0.0005,0,1.020,145.00,492.85)" text-anchor="end" clip-path="url(#k1e)">0.001</text>
<text transform="matrix(1,0.0005,0,1.020,165.80,521.00)" text-anchor="middle">0</text>
<text transform="matrix(1,0.0005,0,1.020,239.64,521.00)" text-anchor="middle" clip-path="url(#k1m)">1</text>
<text transform="matrix(1,0.0005,0,1.020,313.48,521.00)" text-anchor="middle">2</text>
<text transform="matrix(1,0.0005,0,1.020,387.31,521.00)" text-anchor="middle">3</text>
<text transform="matrix(1,0.0005,0,1.020,461.15,521.00)" text-anchor="middle">4</text>
<text transform="matrix(1,0.0005,0,1.020,534.99,521.00)" text-anchor="middle">5</text>
<text transform="matrix(1,0.0005,0,1.020,608.83,521.00)" text-anchor="middle">6</text>
<text transform="matrix(1,0.0005,0,1.020,682.66,521.00)" text-anchor="middle">7</text>
<text transform="matrix(1,0.0005,0,1.020,756.50,521.00)" text-anchor="middle">8</text>
<text transform="matrix(1,0.0005,0,1.030,457.60,564.00)" text-anchor="middle">Time [Gyr]</text>
<text transform="matrix(0.0005,-1,1.030,0,20.30,246.75)" text-anchor="middle" font-size="28.50">Luminosity [Jovian luminosity]</text>
</g>
</svg>
</body></html>
